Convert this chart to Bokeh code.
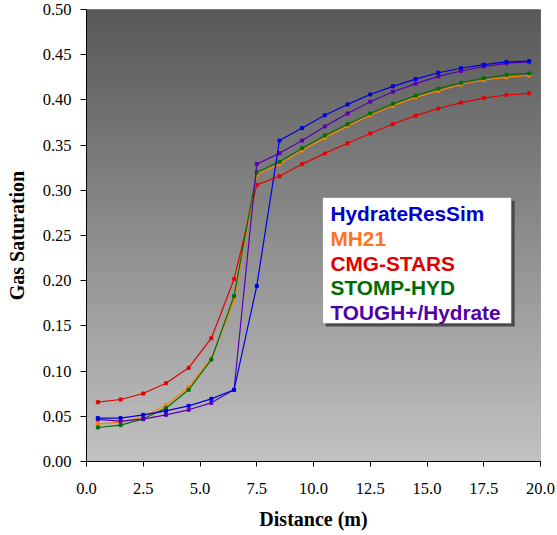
from bokeh.plotting import figure
from bokeh.models import FixedTicker, NumeralTickFormatter, BoxAnnotation, Label, Range1d
from bokeh.embed import file_html
from bokeh.resources import INLINE
import numpy as np

# ---- data ----
distance = [0.5, 1.5, 2.5, 3.5, 4.5, 5.5, 6.5, 7.5, 8.5, 9.5,
            10.5, 11.5, 12.5, 13.5, 14.5, 15.5, 16.5, 17.5, 18.5, 19.5]

hydrateressim = [0.048, 0.048, 0.0516, 0.056, 0.0616, 0.0693, 0.0793, 0.194, 0.355, 0.369,
                 0.383, 0.395, 0.406, 0.415, 0.423, 0.430, 0.435, 0.439, 0.442, 0.443]
mh21 = [0.0413, 0.0435, 0.0494, 0.0623, 0.0822, 0.114, 0.178, 0.317, 0.329, 0.344,
        0.358, 0.371, 0.383, 0.3935, 0.4028, 0.410, 0.417, 0.422, 0.425, 0.427]
cmg_stars = [0.0656, 0.0686, 0.0752, 0.0866, 0.1036, 0.1364, 0.2017, 0.306, 0.3155, 0.329,
             0.3408, 0.352, 0.3628, 0.3733, 0.3826, 0.3905, 0.397, 0.402, 0.4054, 0.4073]
stomp_hyd = [0.0376, 0.0402, 0.0472, 0.059, 0.0793, 0.1128, 0.183, 0.320, 0.3315, 0.3465,
             0.3606, 0.373, 0.385, 0.3957, 0.4047, 0.4125, 0.419, 0.424, 0.4278, 0.4293]
tough_hydrate = [0.0465, 0.0446, 0.0468, 0.0516, 0.0572, 0.0649, 0.0793, 0.329, 0.341, 0.355,
                 0.3707, 0.385, 0.398, 0.409, 0.418, 0.426, 0.432, 0.437, 0.4405, 0.442]

series_names = ["HydrateResSim", "MH21", "CMG-STARS", "STOMP-HYD", "TOUGH+/Hydrate"]
series_values = [hydrateressim, mh21, cmg_stars, stomp_hyd, tough_hydrate]
line_colors = ["#0000e6", "#ff8000", "#e60000", "#007000", "#5a00b4"]
text_colors = ["#0000cc", "#ff7420", "#e00000", "#006a00", "#5000a8"]
draw_order = [2, 1, 3, 4, 0]

x_ticks = [0, 2.5, 5, 7.5, 10, 12.5, 15, 17.5, 20]
y_ticks = [0, 0.05, 0.10, 0.15, 0.20, 0.25, 0.30, 0.35, 0.40, 0.45, 0.50]

SERIF = "Times New Roman, Liberation Serif, serif"
SANS = "Arial, Liberation Sans, sans-serif"

# ---- figure ----
p = figure(width=557, height=535, output_backend="svg", toolbar_location=None,
           x_range=Range1d(0, 20), y_range=Range1d(0, 0.5),
           min_border_left=86, min_border_right=17, min_border_top=9, min_border_bottom=74)
p.background_fill_color = "white"
p.border_fill_color = "white"
p.outline_line_color = "#a0a0a0"
p.outline_line_width = 1
p.xgrid.visible = False
p.ygrid.visible = False

# gradient background of the plot area
n = 150
edges = np.linspace(0, 0.5, n + 1)
top_rgb = np.array([88, 88, 88])
bot_rgb = np.array([194, 194, 194])
cols = []
for i in range(n):
    t = (edges[i] + edges[i + 1]) / 2 / 0.5
    c = bot_rgb + (top_rgb - bot_rgb) * t
    cols.append("#%02x%02x%02x" % tuple(int(round(v)) for v in c))
p.quad(left=0, right=20, bottom=edges[:-1], top=edges[1:] + 0.002, fill_color=cols,
       line_color=cols, line_width=1)

for i in draw_order:
    p.line(distance, series_values[i], line_color=line_colors[i], line_width=1.2)
    p.scatter(distance, series_values[i], marker="square", size=3,
              fill_color=line_colors[i], line_color=line_colors[i])

# axes
for ax in (p.xaxis[0], p.yaxis[0]):
    ax.axis_line_color = "black"
    ax.axis_line_width = 1
    ax.major_tick_line_color = "black"
    ax.major_tick_in = 0
    ax.minor_tick_line_color = None
    ax.major_label_text_font = SERIF
    ax.major_label_text_font_size = "16.5px"
    ax.major_label_text_color = "black"
    ax.axis_label_text_font = SERIF
    ax.axis_label_text_font_size = "20px"
    ax.axis_label_text_font_style = "bold"
    ax.axis_label_text_color = "black"

p.xaxis.ticker = FixedTicker(ticks=x_ticks)
p.xaxis.formatter = NumeralTickFormatter(format="0.0")
p.xaxis.major_tick_out = 5
p.xaxis.major_label_standoff = 16
p.xaxis.axis_label = "Distance (m)"
p.xaxis.axis_label_standoff = 11

p.yaxis.ticker = FixedTicker(ticks=y_ticks)
p.yaxis.formatter = NumeralTickFormatter(format="0.00")
p.yaxis.major_tick_out = 6
p.yaxis.major_label_standoff = 9
p.yaxis.axis_label = "Gas Saturation"
p.yaxis.axis_label_standoff = 12

# legend box with coloured text
box_l, box_r, box_b, box_t = 10.4, 18.72, 0.1527, 0.292
p.add_layout(BoxAnnotation(left=box_l + 0.14, right=box_r + 0.14, bottom=box_b - 0.0035, top=box_t - 0.0035,
                           fill_color="#4a4a4a", fill_alpha=1.0, line_color=None, level="overlay"))
p.add_layout(BoxAnnotation(left=box_l, right=box_r, bottom=box_b, top=box_t,
                           fill_color="white", fill_alpha=1.0, line_color="#333333", line_width=1,
                           level="overlay"))
baselines = [0.2742, 0.2466, 0.2189, 0.1923, 0.1646]
for name, col, yb in zip(series_names, text_colors, baselines):
    p.add_layout(Label(x=10.75, y=yb, text=name, text_color=col, text_font=SANS,
                       text_font_style="bold", text_font_size="20.8px", text_baseline="alphabetic",
                       level="overlay"))

open("out.html", "w").write(file_html(p, INLINE))
